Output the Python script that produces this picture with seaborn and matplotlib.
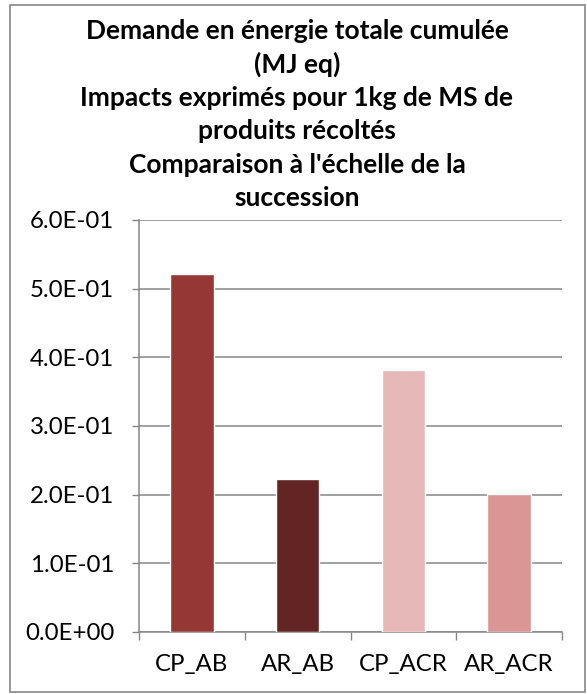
import matplotlib
matplotlib.use("Agg")
import matplotlib.pyplot as plt
from matplotlib.patches import Rectangle
from matplotlib.ticker import FuncFormatter, FixedLocator, NullFormatter
import seaborn as sns
import pandas as pd

# Data
categories = ["CP_AB", "AR_AB", "CP_ACR", "AR_ACR"]
values = [0.521, 0.223, 0.381, 0.201]
colors = ["#953735", "#632523", "#E6B9B8", "#D99694"]
yticks = [0.0, 0.1, 0.2, 0.3, 0.4, 0.5, 0.6]
title_lines = [
    "Demande en énergie totale cumulée",
    "(MJ eq)",
    "Impacts exprimés pour 1kg de MS de",
    "produits récoltés",
    "Comparaison à l'échelle de la",
    "succession",
]

sns.set_theme(style="white")
plt.rcParams["font.family"] = ["Lato", "DejaVu Sans"]

W, H, DPI = 587, 694, 100
fig = plt.figure(figsize=(W / DPI, H / DPI), dpi=DPI)
ax = fig.add_axes([139 / W, 1 - 632 / H, (562 - 139) / W, (632 - 220) / H])

df = pd.DataFrame({"cat": categories, "val": values})
sns.barplot(data=df, x="cat", y="val", hue="cat", palette=colors,
            width=0.41, legend=False, ax=ax, saturation=1, zorder=3)

grey = "#868686"
ax.set_ylim(0, 0.6)
ax.set_xlim(-0.5, len(categories) - 0.5)
ax.set_yticks(yticks)
ax.yaxis.set_major_formatter(FuncFormatter(lambda v, p: f"{v:.1E}"))
ax.yaxis.grid(True, color=grey, linewidth=1.1, zorder=0)
ax.set_axisbelow(True)
ax.set_xlabel("")
ax.set_ylabel("")

for side in ["top", "right"]:
    ax.spines[side].set_visible(False)
for side in ["left", "bottom"]:
    ax.spines[side].set_color(grey)
    ax.spines[side].set_linewidth(1.1)

ax.tick_params(axis="y", which="major", direction="out", length=5, width=1,
               color=grey, left=True, pad=13, labelsize=17.3, labelcolor="black")
ax.tick_params(axis="x", which="major", length=0, pad=16, labelsize=17.3,
               labelcolor="black")
ax.xaxis.set_minor_locator(FixedLocator([i - 0.5 for i in range(len(categories) + 1)]))
ax.xaxis.set_minor_formatter(NullFormatter())
ax.tick_params(axis="x", which="minor", direction="out", length=6, width=1,
               color=grey, bottom=True)

# Multi-line chart title
top_px = 31
step_px = 33.4
for i, line in enumerate(title_lines):
    fig.text(297 / W, 1 - (top_px + i * step_px) / H, line, ha="center",
             va="center", fontsize=19, fontweight="bold", color="black")

# Chart border
fig.patches.append(Rectangle((10 / W, 1 - 692 / H), 575 / W, 687 / H,
                             transform=fig.transFigure, fill=False,
                             edgecolor=grey, linewidth=1.2))

fig.savefig("out.png", dpi=DPI, facecolor="white")
